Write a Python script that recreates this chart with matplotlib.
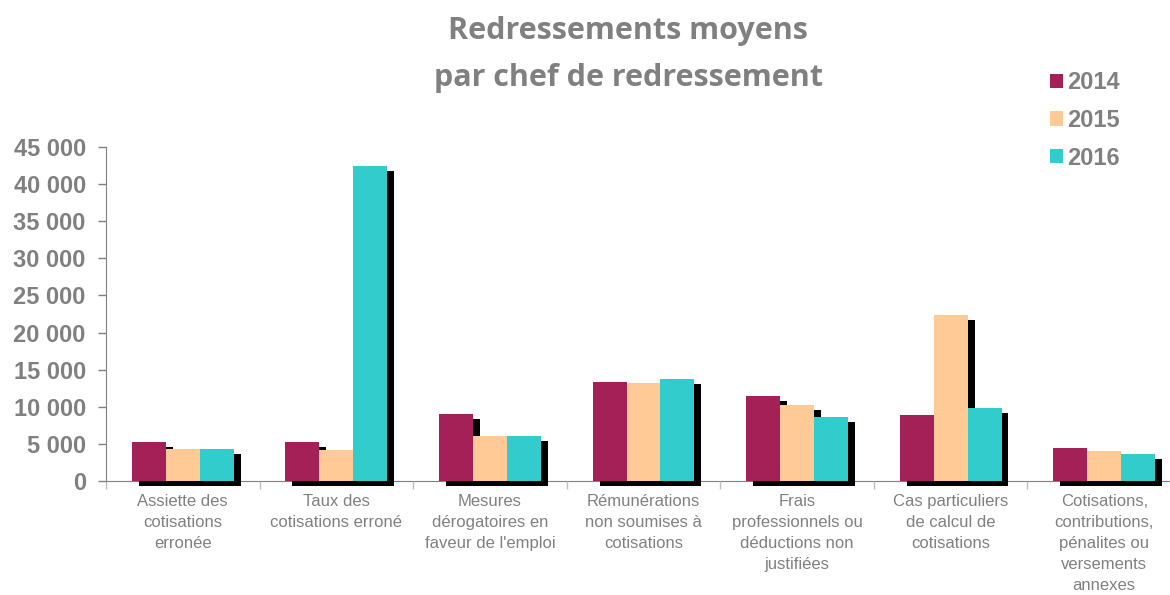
import matplotlib
matplotlib.use('Agg')
import matplotlib.pyplot as plt
import matplotlib.patheffects as pe
from matplotlib.ticker import FuncFormatter
import numpy as np

plt.rcParams["font.family"] = ["Liberation Sans", "DejaVu Sans"]

categories = [
    "Assiette des\ncotisations\nerronée",
    "Taux des\ncotisations erroné",
    "Mesures\ndérogatoires en\nfaveur de l'emploi",
    "Rémunérations\nnon soumises à\ncotisations",
    "Frais\nprofessionnels ou\ndéductions non\njustifiées",
    "Cas particuliers\nde calcul de\ncotisations",
    "Cotisations,\ncontributions,\npénalites ou\nversements\nannexes",
]
annees = ["2014", "2015", "2016"]
v2014 = [5200, 5200, 9000, 13300, 11400, 8900, 4500]
v2015 = [4300, 4200, 6000, 13200, 10200, 22300, 4100]
v2016 = [4300, 42400, 6000, 13700, 8600, 9800, 3700]
couleurs = ["#A32157", "#FFCA96", "#33CCCC"]
gris = "#808080"

fig = plt.figure(figsize=(11.7, 5.95), dpi=100)
ax = fig.add_axes([106 / 1170, 114 / 595, 1075 / 1170, 334 / 595])

x = np.arange(len(categories))
largeur = 0.221
ombre = [pe.SimplePatchShadow(offset=(5.0, -3.6), shadow_rgbFace="black", alpha=1.0), pe.Normal()]
for i, (vals, coul, an) in enumerate(zip([v2014, v2015, v2016], couleurs, annees)):
    barres = ax.bar(x + (i - 1) * largeur, vals, largeur, color=coul, label=an, linewidth=0, zorder=2)
    for b in barres:
        b.set_path_effects(ombre)
        b.set_clip_on(False)

ax.set_xlim(-0.5, len(categories) - 0.5)
ax.set_ylim(0, 45000)
ax.set_yticks(range(0, 45001, 5000))
ax.yaxis.set_major_formatter(FuncFormatter(lambda v, p: f"{int(v):,}".replace(",", " ")))
for lab in ax.get_yticklabels():
    lab.set_fontweight("bold")
ax.tick_params(axis="y", labelsize=17, labelcolor=gris, color=gris, length=6, width=1, pad=8.5)

ax.set_xticks(x)
ax.set_xticklabels(categories, fontsize=12, color=gris, linespacing=1.5)
ax.set_xticks(np.arange(-0.5, len(categories), 1), minor=True)
ax.tick_params(axis="x", which="major", length=0, pad=9.5)
ax.tick_params(axis="x", which="minor", length=6, color="#BFBFBF", width=1)

for s in ["top", "right"]:
    ax.spines[s].set_visible(False)
ax.spines["left"].set_color(gris)
ax.spines["bottom"].set_color(gris)
ax.spines["bottom"].set_zorder(1)

leg = fig.legend(loc="upper left", bbox_to_anchor=(1029 / 1170, 1 - 50 / 595), frameon=False,
                 handlelength=0.55, handleheight=0.55, handletextpad=0.15, labelspacing=0.62,
                 prop={"size": 17, "weight": "bold"})
for t in leg.get_texts():
    t.set_color(gris)
for h in leg.legend_handles:
    h.set_path_effects([])

fig.text(628 / 1170, 1 - 31 / 595, "Redressements moyens", ha="center", va="center",
         fontsize=22, fontweight="bold", color=gris, family="Open Sans")
fig.text(628 / 1170, 1 - 78 / 595, "par chef de redressement", ha="center", va="center",
         fontsize=22, fontweight="bold", color=gris, family="Open Sans")

fig.savefig("out.png", dpi=100)
